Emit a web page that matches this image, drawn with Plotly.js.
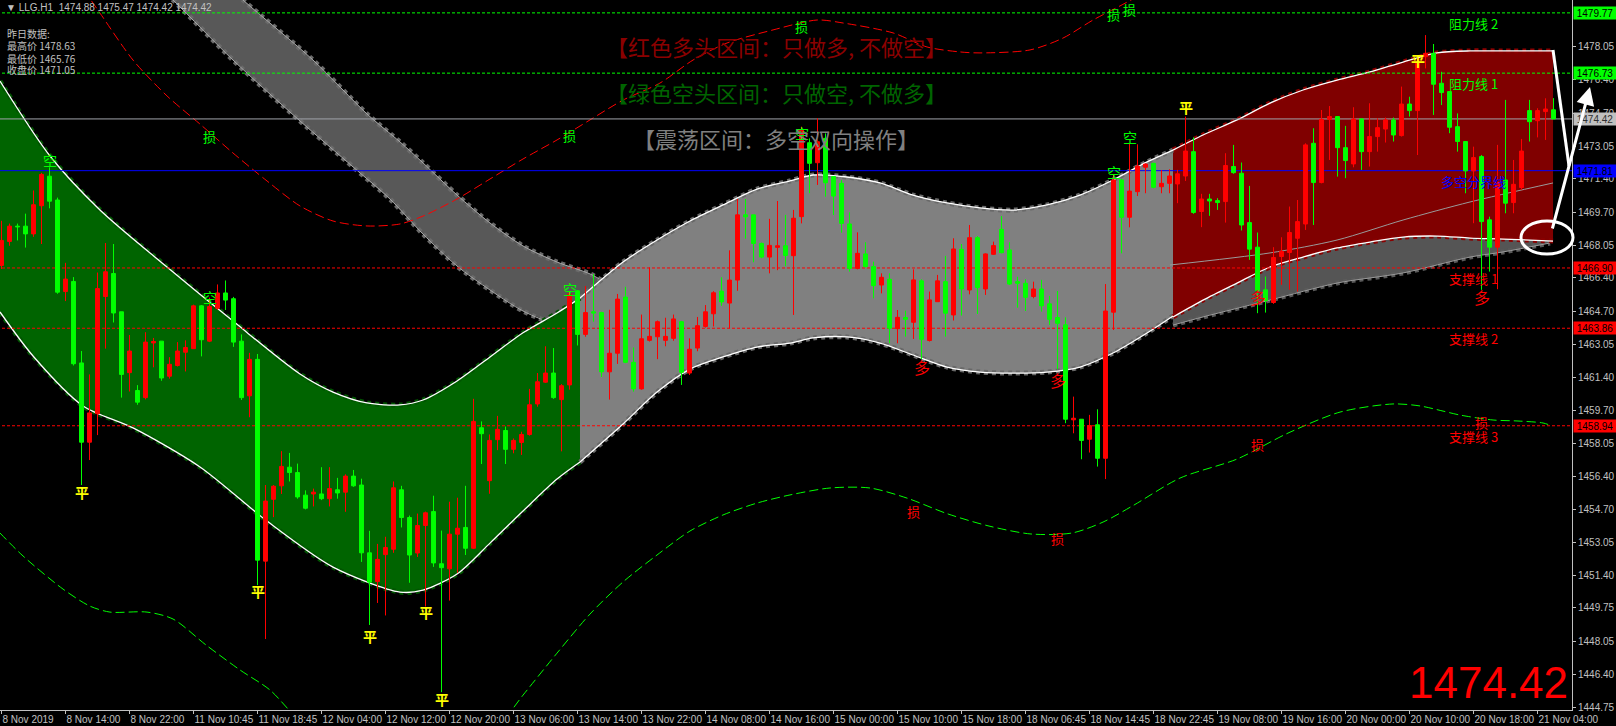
<!DOCTYPE html>
<html><head><meta charset="utf-8">
<script src="https://cdn.plot.ly/plotly-3.0.1.min.js"></script>
<style>html,body{margin:0;padding:0;background:#000;}#chart{width:1616px;height:726px;}</style>
</head><body><div id="chart"></div>
<script>
// ---------- Candle data (LLG H1) ----------
const barOpen = [1467.03,1468.24,1469.01,1469.01,1468.62,1470.04,1471.53,1470.33,1465.71,1466.22,1462.11,1458.11,1459.55,1465.46,1466.62,1464.69,1461.62,1460.72,1460.36,1463.12,1463.21,1461.44,1461.98,1462.65,1462.83,1464.99,1463.21,1464.87,1465.64,1465.35,1463.21,1460.45,1462.29,1452.11,1455.23,1455.91,1456.85,1456.58,1455.44,1455.50,1455.50,1455.26,1455.71,1455.59,1456.40,1455.95,1452.53,1451.08,1452.44,1452.71,1455.71,1454.31,1452.52,1453.91,1454.61,1451.98,1451.72,1453.47,1453.81,1452.76,1458.84,1456.17,1458.24,1458.70,1457.75,1458.10,1458.50,1460.04,1461.14,1461.60,1460.26,1461.00,1465.75,1463.55,1464.69,1464.65,1461.66,1462.60,1465.43,1462.14,1460.80,1463.25,1463.43,1463.25,1463.35,1464.19,1461.60,1462.86,1463.95,1464.59,1465.73,1465.13,1466.29,1469.58,1469.58,1468.14,1467.45,1467.94,1468.02,1467.52,1469.49,1473.22,1472.21,1473.44,1471.51,1471.17,1469.12,1466.88,1467.61,1466.97,1466.04,1466.33,1463.84,1464.40,1464.16,1466.25,1463.24,1465.20,1466.21,1464.53,1467.84,1465.79,1468.43,1465.84,1467.59,1468.85,1467.81,1466.21,1466.13,1465.46,1465.84,1465.09,1464.40,1464.03,1459.24,1459.27,1458.26,1458.99,1457.30,1464.67,1471.34,1469.46,1470.75,1471.98,1472.18,1471.00,1471.17,1471.14,1471.54,1472.77,1469.75,1470.38,1470.30,1470.25,1472.02,1471.68,1469.19,1467.95,1465.80,1465.16,1467.48,1467.68,1468.40,1469.12,1473.19,1471.21,1474.40,1474.54,1472.97,1472.15,1474.42,1472.77,1473.53,1473.91,1474.37,1473.58,1475.17,1474.84,1477.56,1477.73,1476.22,1475.80,1474.03,1473.28,1471.80,1472.52,1469.33,1467.95,1471.34,1470.20,1470.96,1474.84,1474.33,1474.79,1474.88];
const barHigh = [1469.28,1469.14,1469.14,1469.64,1470.81,1471.70,1471.98,1470.45,1467.16,1466.44,1462.71,1461.53,1466.67,1468.16,1468.11,1464.69,1463.52,1460.99,1463.66,1463.37,1463.21,1462.40,1463.16,1463.25,1465.05,1465.03,1465.41,1466.07,1466.27,1465.44,1463.55,1462.62,1462.56,1455.95,1455.95,1457.66,1457.57,1457.03,1455.68,1455.77,1456.85,1456.85,1456.31,1456.49,1456.71,1456.27,1453.64,1452.98,1453.34,1456.13,1455.91,1454.41,1454.51,1454.61,1455.41,1453.65,1455.11,1455.31,1455.91,1460.30,1459.16,1458.50,1459.44,1458.90,1458.30,1458.64,1460.80,1461.60,1462.95,1462.86,1461.04,1465.69,1465.79,1465.99,1466.59,1464.69,1464.79,1465.59,1465.95,1462.89,1464.55,1466.93,1464.25,1464.39,1464.55,1464.23,1463.35,1464.43,1465.03,1465.73,1466.43,1467.79,1470.38,1470.38,1469.58,1468.18,1469.38,1470.28,1469.58,1469.83,1474.03,1473.44,1474.45,1473.69,1471.51,1471.34,1469.71,1468.70,1468.20,1467.22,1466.63,1466.63,1464.78,1464.75,1466.83,1466.33,1465.71,1466.55,1467.51,1468.40,1468.11,1469.07,1468.51,1467.64,1468.23,1469.52,1468.20,1466.46,1466.33,1466.21,1466.30,1465.49,1465.74,1464.41,1460.41,1459.27,1459.49,1459.77,1466.09,1471.59,1471.39,1473.19,1473.14,1472.18,1472.21,1471.84,1471.88,1471.85,1474.54,1473.49,1470.64,1470.64,1470.42,1472.69,1473.11,1472.22,1471.04,1468.69,1466.47,1467.95,1468.45,1470.00,1470.33,1473.19,1473.95,1474.87,1475.07,1474.54,1474.07,1475.01,1474.45,1475.21,1474.45,1474.49,1474.49,1476.05,1475.54,1477.53,1478.65,1478.20,1476.80,1475.80,1474.70,1473.28,1473.02,1472.60,1469.49,1473.11,1475.38,1472.35,1473.41,1475.38,1474.96,1475.46,1475.47];
const barLow = [1466.85,1468.02,1468.29,1467.93,1468.47,1468.11,1469.91,1465.60,1465.23,1461.98,1455.95,1457.21,1458.47,1462.83,1464.15,1460.36,1460.67,1460.00,1460.27,1461.89,1461.21,1461.32,1461.93,1461.68,1462.83,1462.44,1463.16,1464.78,1464.78,1462.92,1460.24,1459.37,1450.90,1448.18,1454.33,1455.50,1456.13,1455.26,1454.72,1454.87,1455.19,1454.87,1455.26,1454.60,1455.86,1452.07,1448.89,1450.00,1449.37,1452.53,1453.81,1451.02,1452.32,1449.82,1451.82,1445.50,1450.12,1451.52,1452.42,1452.72,1457.01,1455.51,1457.71,1457.01,1457.55,1457.47,1458.44,1459.90,1461.10,1460.30,1457.65,1460.76,1462.99,1463.43,1464.19,1461.40,1460.26,1462.06,1462.10,1460.66,1460.76,1463.19,1462.30,1462.95,1463.23,1461.00,1461.50,1462.70,1463.89,1463.95,1464.99,1463.85,1465.75,1468.38,1467.19,1467.39,1466.63,1466.79,1466.99,1464.53,1469.15,1470.67,1471.09,1470.50,1469.57,1468.68,1466.72,1466.83,1466.93,1465.37,1465.62,1463.10,1463.10,1463.44,1463.32,1462.30,1463.19,1465.20,1463.44,1464.25,1464.50,1465.57,1464.58,1465.54,1467.56,1467.64,1466.04,1464.90,1464.73,1465.37,1464.70,1464.03,1461.79,1459.07,1458.56,1457.25,1457.59,1456.88,1456.25,1463.77,1467.64,1468.95,1470.53,1470.67,1470.92,1470.67,1470.67,1470.17,1471.29,1469.63,1468.96,1469.53,1469.83,1469.19,1471.65,1468.79,1467.31,1464.62,1464.65,1465.09,1466.05,1465.80,1465.71,1468.82,1469.07,1471.17,1472.35,1471.51,1471.43,1471.98,1471.85,1472.02,1472.77,1473.23,1473.28,1473.53,1474.54,1472.60,1476.97,1474.62,1475.12,1473.70,1472.77,1470.67,1469.16,1465.80,1466.72,1465.83,1469.66,1469.66,1470.84,1473.28,1473.49,1473.36,1474.42];
const barClose = [1468.29,1469.01,1468.98,1468.62,1470.09,1471.62,1470.27,1465.68,1466.34,1462.07,1458.11,1459.59,1465.86,1466.71,1464.63,1461.53,1462.71,1460.13,1463.16,1463.19,1461.35,1462.04,1462.71,1462.89,1464.99,1463.28,1464.96,1465.64,1465.28,1463.16,1460.36,1462.29,1452.16,1455.14,1455.89,1456.89,1456.58,1455.35,1454.78,1455.59,1455.26,1455.77,1455.55,1456.40,1455.91,1452.53,1451.05,1452.20,1452.80,1455.81,1454.31,1452.42,1453.91,1454.55,1452.02,1451.78,1453.47,1453.77,1452.76,1459.16,1458.54,1458.20,1458.76,1457.75,1458.20,1458.50,1460.00,1461.16,1461.60,1460.36,1460.96,1465.59,1463.55,1464.65,1464.63,1461.66,1462.60,1465.33,1462.14,1460.80,1463.33,1463.45,1464.19,1463.45,1464.33,1461.64,1462.80,1463.99,1464.69,1465.65,1465.19,1466.29,1469.58,1469.48,1468.14,1467.45,1468.04,1468.02,1467.53,1469.41,1473.86,1472.18,1473.27,1471.20,1470.53,1469.15,1466.88,1467.64,1466.97,1466.01,1466.43,1463.86,1464.41,1464.31,1466.30,1463.30,1465.29,1466.25,1464.62,1467.86,1465.84,1468.43,1465.91,1467.61,1468.03,1467.67,1466.09,1466.13,1465.42,1465.84,1464.99,1464.31,1464.11,1459.27,1459.32,1458.20,1458.95,1457.30,1464.73,1471.34,1469.46,1470.78,1472.04,1472.14,1470.97,1471.17,1471.54,1471.65,1472.80,1469.70,1470.38,1470.28,1470.20,1472.07,1471.71,1469.07,1467.85,1465.76,1465.26,1467.43,1467.73,1468.69,1469.24,1473.11,1471.21,1474.40,1474.54,1472.97,1472.32,1474.42,1472.77,1473.53,1473.98,1474.37,1473.61,1475.17,1474.84,1477.23,1477.73,1476.17,1475.75,1474.00,1473.28,1471.80,1472.47,1469.24,1467.95,1471.23,1470.17,1471.12,1472.80,1474.28,1474.84,1474.92,1474.42];
const bars = barOpen.map((_, i) => i);

// ---------- Time axis ----------
const xTickBars = [0,8,16,24,32,40,48,56,64,72,80,88,96,104,112,120,128,136,144,152,160,168,176,184,192];
const xTickLabels = ['8 Nov 2019','8 Nov 14:00','8 Nov 22:00','11 Nov 10:45','11 Nov 18:45','12 Nov 04:00','12 Nov 12:00','12 Nov 20:00','13 Nov 06:00','13 Nov 14:00','13 Nov 22:00','14 Nov 08:00','14 Nov 16:00','15 Nov 00:00','15 Nov 10:00','15 Nov 18:00','18 Nov 06:45','18 Nov 14:45','18 Nov 22:45','19 Nov 08:00','19 Nov 16:00','20 Nov 00:00','20 Nov 10:00','20 Nov 18:00','21 Nov 04:00'];
const yTickVals = [1478.05,1476.40,1474.70,1473.05,1471.40,1469.70,1468.05,1466.40,1464.70,1463.05,1461.40,1459.70,1458.05,1456.40,1454.70,1453.05,1451.40,1449.75,1448.05,1446.40,1444.75];

// ---------- Channels ----------
const greenUpperBar = [-0.19,6.06,12.31,20.69,28.94,37.31,41.44,45.69,49.81,52.69,56.94,61.06,65.19,69.44,72.31];
const greenUpperPrice = [1476.33,1472.55,1469.83,1466.95,1464.22,1461.55,1460.64,1460.09,1459.99,1460.24,1461.20,1462.41,1463.63,1464.63,1465.38];
const greenLowerBar = [-0.19,3.94,10.19,16.44,24.81,33.19,41.44,49.81,52.69,56.94,61.06,65.19,69.44,72.31];
const greenLowerPrice = [1464.68,1462.46,1459.94,1458.83,1456.86,1454.13,1451.81,1450.55,1450.65,1451.46,1453.02,1454.64,1456.25,1457.11];
const grayBandBar = [72.31,77.69,81.94,86.06,90.19,94.44,98.56,101.44,105.69,109.81,113.94,118.19,122.31,126.44,130.69,134.81,138.94,143.19,146.44];
const grayUpperPrice = [1465.38,1467.20,1468.31,1469.27,1470.08,1470.88,1471.29,1471.59,1471.49,1471.19,1470.58,1470.18,1469.93,1469.82,1470.08,1470.58,1471.34,1472.25,1472.85];
const grayLowerPrice = [1457.11,1459.03,1460.64,1461.80,1462.41,1462.91,1463.11,1463.37,1463.42,1463.11,1462.51,1461.90,1461.65,1461.60,1461.65,1461.90,1462.61,1463.62,1464.48];
const redBandBar = [146.44,150.19,154.44,158.56,162.69,166.94,171.06,175.19,179.44,183.56,187.69,193.94];
const redUpperPrice = [1472.85,1473.61,1474.37,1475.22,1475.88,1476.38,1476.79,1477.29,1477.75,1477.85,1477.85,1477.85];
const redLowerPrice = [1464.43,1465.28,1466.14,1466.95,1467.45,1467.91,1468.21,1468.46,1468.51,1468.41,1468.36,1468.26];
const wedgeBar = [146.44,150.19,158.56,166.94,175.19,183.56,187.69,193.56];
const wedgePrice = [1464.02,1464.43,1465.28,1466.14,1466.65,1467.45,1467.71,1468.16];
const maBar = [146.06,158.56,166.94,175.19,183.56,193.94];
const maPrice = [1467.05,1467.66,1468.31,1469.32,1470.23,1471.19];
const ribbonUpperBar = [23.56,30.19,38.94,45.69,49.81,52.69,56.94,61.06,65.19,69.44,73.56,75.40];
const ribbonUpperPrice = [1482.94,1480.42,1477.39,1474.67,1473.26,1472.20,1470.58,1469.17,1468.01,1467.20,1466.60,1466.19];
const ribbonLowerBar = [14.81,21.44,28.94,37.31,43.94,48.56,52.69,56.94,61.06,65.19,69.44,71.94,75.44];
const ribbonLowerPrice = [1482.94,1480.42,1477.39,1474.32,1472.00,1470.38,1468.61,1467.00,1465.79,1464.73,1464.02,1463.82,1463.77];

// ---------- Stop curves ----------
const stopUpBar = [10.31,12.31,16.44,20.69,24.81,28.94,33.19,37.31,41.44,45.69,49.81,52.69,56.94,61.06,65.19,69.44,73.56,77.69,82.31,86.44,90.69,96.44,101.94,105.19,111.44,115.69,119.81,122.31,128.56,132.69,136.44,139.81,142.31];
const stopUpPrice = [1480.92,1479.76,1477.39,1475.58,1474.16,1472.70,1471.29,1470.03,1469.27,1469.02,1469.12,1469.52,1470.38,1471.39,1472.40,1473.36,1474.37,1475.37,1476.23,1477.39,1478.25,1478.91,1479.41,1479.26,1478.76,1478.05,1477.80,1477.75,1477.90,1478.50,1479.41,1480.12,1480.67];
const stopDnBar = [-0.19,2.69,7.69,11.06,13.56,18.19,21.44,25.56,29.81,33.56,37.06,42.31,49.81,57.31,62.69,65.19,69.44,73.56,77.69,81.94,86.06,90.19,94.44,98.56,103.56,108.56,113.19,118.31,123.44,128.69,133.81,137.69,141.56,147.31,154.44,160.81,167.31,173.94,177.31,180.19,182.31,186.44,189.56,192.69,193.81];
const stopDnPrice = [1453.53,1452.37,1450.70,1449.84,1449.54,1449.54,1449.19,1447.88,1446.62,1445.61,1444.14,1442.58,1441.57,1442.58,1444.09,1445.35,1447.47,1449.44,1451.06,1452.42,1453.63,1454.44,1455.04,1455.45,1455.80,1455.80,1455.29,1454.49,1453.88,1453.48,1453.53,1454.08,1454.94,1456.30,1457.26,1458.57,1459.63,1460.04,1459.94,1459.68,1459.48,1459.23,1459.18,1459.08,1458.93];

// ---------- Levels ----------
const levelValues = [1479.77,1476.73,1474.42,1471.81,1466.90,1463.86,1458.94];
const levelColors = ['#00ff00','#00ff00','#a0a4aa','#0000ff','#ff0000','#ff0000','#ff0000'];
const levelDash = ['3px,2px','3px,2px','solid','solid','3px,2px','3px,2px','3px,2px'];
const tagBg = ['#00ff00','#00ff00','#c0c0c0','#0000ff','#ff0000','#ff0000','#ff0000'];
const tagFg = ['#000000','#000000','#303030','#000000','#000000','#000000','#000000'];
const levelNames = ['阻力线 2','阻力线 1','','多空分界线','支撑线 1','支撑线 2','支撑线 3'];
const levelNameBar = 184;

// ---------- Signals ----------
const kongBar = [6,26,71,100,141,139];
const kongPrice = [1472.35,1465.44,1465.84,1473.71,1473.51,1471.74];
const pingBar = [10,32,46,53,55,148,177];
const pingPrice = [1455.60,1450.60,1448.33,1449.54,1445.15,1475.02,1477.39];
const duoBar = [115,132,157,185];
const duoPrice = [1461.90,1461.25,1465.44,1465.44];
const sunGreenBar = [26,71,100,139,141];
const sunGreenPrice = [1473.51,1473.56,1479.06,1479.71,1479.95];
const sunRedBar = [114,132,157,185];
const sunRedPrice = [1454.59,1453.23,1457.97,1459.13];

const yesterday = {high: 1478.63, low: 1465.76, close: 1471.05};
const symbol = 'LLG.H1';

// ---------- Build ----------
const CJK = 'Noto Sans CJK SC, sans-serif';
const SANS = 'Liberation Sans, Arial, sans-serif';
const X0 = -0.1875, X1 = 196.31, Y0 = 1444.60, Y1 = 1480.42;
const PW = 1572, PH = 710;
const px = x => x / PW, py = y => 1 - y / PH;

const traces = [];
function line(x, y, color, width, dash, shape) {
  return {type:'scatter', mode:'lines', x, y, hoverinfo:'skip', showlegend:false,
    line:{color, width, dash: dash || 'solid', shape: shape || 'spline', smoothing: 0.8}};
}
function band(xs, lo, xs2, hi, fill) {
  traces.push({type:'scatter', mode:'lines', x:xs, y:lo, hoverinfo:'skip', showlegend:false, line:{width:0, shape:'spline', smoothing:0.8}});
  traces.push({type:'scatter', mode:'lines', x:xs2, y:hi, hoverinfo:'skip', showlegend:false, fill:'tonexty', fillcolor:fill, line:{width:0, shape:'spline', smoothing:0.8}});
}

// ribbon (polygon)
traces.push({type:'scatter', mode:'lines', hoverinfo:'skip', showlegend:false,
  x: ribbonUpperBar.concat(ribbonLowerBar.slice().reverse()),
  y: ribbonUpperPrice.concat(ribbonLowerPrice.slice().reverse()),
  fill:'toself', fillcolor:'#585858', line:{width:0}});
traces.push(line(ribbonUpperBar, ribbonUpperPrice, '#6a6a6a', 5, '4px,4px'));
traces.push(line(ribbonLowerBar, ribbonLowerPrice, '#6a6a6a', 5, '4px,4px'));
traces.push(line(ribbonUpperBar, ribbonUpperPrice, '#a8a8a8', 1));
traces.push(line(ribbonLowerBar, ribbonLowerPrice, '#a8a8a8', 1));

band(greenLowerBar, greenLowerPrice, greenUpperBar, greenUpperPrice, '#006400');
band(grayBandBar, grayLowerPrice, grayBandBar, grayUpperPrice, '#808080');
band(wedgeBar, wedgePrice, redBandBar, redLowerPrice, '#555555');
traces.push(line(wedgeBar, wedgePrice, '#5a5a5a', 5, '4px,4px'));
traces.push(line(wedgeBar, wedgePrice, '#9a9a9a', 1));
band(redBandBar, redLowerPrice, redBandBar, redUpperPrice, '#800000');

traces.push(line(greenUpperBar, greenUpperPrice, '#005400', 5, '4px,4px'));
traces.push(line(greenLowerBar, greenLowerPrice, '#005400', 5, '4px,4px'));
traces.push(line(grayBandBar, grayUpperPrice, '#686868', 5, '4px,4px'));
traces.push(line(grayBandBar, grayLowerPrice, '#686868', 5, '4px,4px'));
traces.push(line(redBandBar, redUpperPrice, '#8a0000', 5, '4px,4px'));
traces.push(line(redBandBar, redLowerPrice, '#8a0000', 5, '4px,4px'));
[[greenUpperBar, greenUpperPrice],[greenLowerBar, greenLowerPrice],[grayBandBar, grayUpperPrice],[grayBandBar, grayLowerPrice],[redBandBar, redUpperPrice],[redBandBar, redLowerPrice]]
  .forEach(([x,y]) => traces.push(line(x, y, '#ffffff', 1.3)));
traces.push(line(maBar, maPrice, '#9a9a9a', 1));
traces.push(line(stopUpBar, stopUpPrice, '#ff0000', 1, '9px,4px'));
traces.push(line(stopDnBar, stopDnPrice, '#00ff00', 1, '9px,4px'));
levelValues.forEach((v, k) => traces.push(line([X0 - 1, X1 + 1], [v, v], levelColors[k], 1, levelDash[k], 'linear')));

// candles on an overlaid y axis so they are drawn above the filled bands
traces.push({type:'candlestick', x:bars, open:barOpen, high:barHigh, low:barLow, close:barClose,
  xaxis:'x', yaxis:'y2', hoverinfo:'skip', showlegend:false, whiskerwidth:0,
  increasing:{line:{color:'#ff0000', width:1}, fillcolor:'#ff0000'},
  decreasing:{line:{color:'#00ff00', width:1}, fillcolor:'#00ff00'}});

// ---------- Annotations ----------
const ann = [];
function sig(xs, ys, text, color, size) {
  xs.forEach((b, k) => ann.push({x:b, y:ys[k], xref:'x', yref:'y', xanchor:'center', yanchor:'middle', text, showarrow:false,
    font:{family:CJK, size:size || 14, color}}));
}
sig(kongBar, kongPrice, '空', '#00ff00');
sig(pingBar, pingPrice, '<b>平</b>', '#ffff00');
sig(duoBar, duoPrice, '多', '#ff0000', 16);
sig(sunGreenBar, sunGreenPrice, '损', '#00ff00', 13);
sig(sunRedBar, sunRedPrice, '损', '#ff0000', 13);

levelValues.forEach((v, k) => {
  if (levelNames[k]) ann.push({x:levelNameBar, y:v, xref:'x', yref:'y', xanchor:'center', yanchor:'top', yshift:1, text:levelNames[k], showarrow:false,
    font:{family:CJK, size:13, color: levelColors[k]}});
  ann.push({x:1, y:v, xref:'paper', yref:'y', xanchor:'left', yanchor:'middle', xshift:1, text:v.toFixed(2), showarrow:false,
    bgcolor:tagBg[k], borderpad:0, width:42, height:12, align:'center',
    font:{family:SANS, size:10, color:tagFg[k]}});
});

const bigFont = {family:CJK, size:22};
[['【红色多头区间：只做多, 不做空】', 46, '#8b0000'], ['【绿色空头区间：只做空, 不做多】', 92, '#006400'], ['【震荡区间：多空双向操作】', 138, '#808080']]
  .forEach(([t, y, c]) => ann.push({x:px(776), y:py(y), xref:'paper', yref:'paper', xanchor:'center', yanchor:'middle', text:t, showarrow:false,
    font:Object.assign({color:c}, bigFont)}));

const last = barOpen.length - 1;
const f2 = v => v.toFixed(2);
ann.push({x:px(4), y:py(8), xref:'paper', yref:'paper', xanchor:'left', yanchor:'middle', showarrow:false,
  text:'▼ ' + symbol + '  ' + [barOpen[last], barHigh[last], barLow[last], barClose[last]].map(f2).join(' '),
  font:{family:SANS, size:10, color:'#c0c0c0'}});
[['昨日数据:', 33], ['最高价 ' + f2(yesterday.high), 45], ['最低价 ' + f2(yesterday.low), 58], ['收盘价 ' + f2(yesterday.close), 70]]
  .forEach(([t, y]) => ann.push({x:px(5), y:py(y), xref:'paper', yref:'paper', xanchor:'left', yanchor:'middle', showarrow:false, text:t,
    font:{family:CJK, size:10, color:'#c0c0c0'}}));
ann.push({x:px(1570), y:py(682), xref:'paper', yref:'paper', xanchor:'right', yanchor:'middle', showarrow:false, text:f2(barClose[last]),
  font:{family:SANS, size:44, color:'#ff0000'}});
ann.push({x:px(1590), y:py(87), xref:'paper', yref:'paper', ax:-38, ay:143, text:'', showarrow:true,
  arrowhead:2, arrowsize:1.2, arrowwidth:3, arrowcolor:'#ffffff'});

const shapes = [
  {type:'line', xref:'paper', yref:'paper', x0:px(1553), y0:py(50), x1:px(1569), y1:py(166), line:{color:'#ffffff', width:3}},
  {type:'circle', xref:'paper', yref:'paper', x0:px(1521), x1:px(1573), y0:py(254), y1:py(221), line:{color:'#ffffff', width:3}}
];

const axFont = {family:SANS, size:10, color:'#c0c0c0'};
const layout = {
  width:1616, height:726,
  margin:{l:0, r:44, t:0, b:16, pad:0},
  paper_bgcolor:'#000000', plot_bgcolor:'#000000',
  showlegend:false, hovermode:false, dragmode:false,
  xaxis:{type:'linear', range:[X0, X1], tickvals:xTickBars, ticktext:xTickLabels, ticks:'outside', ticklen:3,
    tickcolor:'#c0c0c0', showline:true, linecolor:'#c0c0c0', linewidth:1, showgrid:false, zeroline:false,
    tickangle:0, ticklabelposition:'outside right', tickfont:axFont, rangeslider:{visible:false}, fixedrange:true},
  yaxis:{side:'right', range:[Y0, Y1], tickvals:yTickVals, ticktext:yTickVals.map(f2), ticks:'outside', ticklen:3,
    tickcolor:'#c0c0c0', showline:true, mirror:true, linecolor:'#c0c0c0', linewidth:1, showgrid:false, zeroline:false,
    tickfont:axFont, fixedrange:true},
  yaxis2:{overlaying:'y', side:'right', range:[Y0, Y1], visible:false, showgrid:false, zeroline:false, fixedrange:true},
  annotations: ann,
  shapes: shapes
};
Plotly.newPlot('chart', traces, layout, {staticPlot:true, displayModeBar:false});
</script></body></html>
